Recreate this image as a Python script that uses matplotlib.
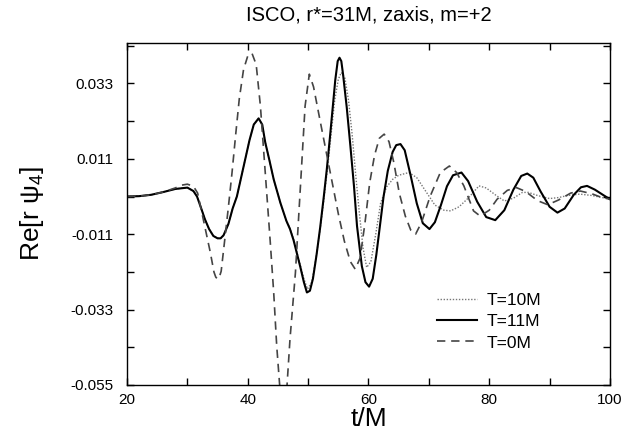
import matplotlib
matplotlib.use("Agg")
import matplotlib.pyplot as plt

# T=10M (dotted)
t_10 = [20, 22, 24, 26, 28, 30, 31, 31.6, 32.3, 32.9, 33.6, 34.3, 35.0, 35.5, 36.0, 36.8,
        37.5, 38.2, 38.9, 39.6, 40.3, 41.0, 41.8, 42.4, 42.9, 43.6, 44.3, 45.4, 46.4, 47.0,
        47.6, 48.1, 48.7, 49.3, 49.9, 50.6, 51.3, 52.0, 52.6, 53.2, 53.8, 54.4, 55.0, 55.5,
        56.1, 56.7, 57.3, 57.9, 58.5, 59.1, 59.7, 60.4, 61.2, 62.0, 63.0, 64.0, 65.0, 66.7,
        68.0, 69.5, 71.0, 72.5, 73.6, 75.0, 76.5, 78.3, 79.5, 81.0, 82.5, 84.0, 85.5, 86.5,
        88.0, 90.0, 91.5, 93.0, 95.0, 97.0, 99.0, 100]
re_10 = [0.0000, 0.0001, 0.0005, 0.0013, 0.0022, 0.0026, 0.0016, 0.0000, -0.0035, -0.0066,
         -0.0095, -0.0115, -0.0122, -0.0122, -0.0113, -0.0080, -0.0035, 0.0000, 0.0055, 0.0110,
         0.0165, 0.0210, 0.0228, 0.0210, 0.0158, 0.0105, 0.0050, -0.0018, -0.0071, -0.0093,
         -0.0125, -0.0160, -0.0200, -0.0240, -0.0270, -0.0250, -0.0180, -0.0095, -0.0010, 0.0080,
         0.0180, 0.0280, 0.0342, 0.0362, 0.0345, 0.0280, 0.0180, 0.0060, -0.0050, -0.0150,
         -0.0207, -0.0190, -0.0110, -0.0020, 0.0028, 0.0050, 0.0062, 0.0070, 0.0055, 0.0015,
         -0.0025, -0.0040, -0.0042, -0.0030, -0.0005, 0.0031, 0.0025, 0.0005, -0.0013, -0.0005,
         0.0012, 0.0012, 0.0003, -0.0006, -0.0003, 0.0003, 0.0007, 0.0003, -0.0004, -0.0008]

# T=11M (solid)
t_11 = [20, 22, 24, 26, 28, 30, 31, 31.6, 32.3, 32.9, 33.6, 34.3, 35.0, 35.5, 36.0, 36.8,
        37.5, 38.2, 38.9, 39.6, 40.3, 41.0, 41.8, 42.4, 42.9, 43.6, 44.3, 45.4, 46.4, 47.0,
        47.6, 48.1, 48.7, 49.3, 49.8, 50.3, 50.8, 51.4, 52.0, 52.6, 53.1, 53.6, 54.1, 54.5,
        54.9, 55.2, 55.5, 55.8, 56.4, 57.0, 57.6, 58.1, 58.9, 59.5, 60.1, 60.7, 61.3, 61.9,
        62.5, 63.2, 64.0, 64.6, 65.3, 66.0, 67.0, 68.0, 69.0, 70.1, 71.0, 72.0, 73.0, 74.0,
        75.4, 76.5, 78.0, 79.5, 81.0, 82.5, 84.0, 85.3, 86.3, 87.3, 88.5, 90.0, 91.3, 92.5,
        94.0, 95.2, 96.2, 97.5, 99.0, 100]
re_11 = [0.0000, 0.0001, 0.0005, 0.0013, 0.0022, 0.0026, 0.0016, 0.0000, -0.0035, -0.0066,
         -0.0095, -0.0115, -0.0122, -0.0122, -0.0113, -0.0080, -0.0035, 0.0000, 0.0055, 0.0110,
         0.0165, 0.0210, 0.0228, 0.0210, 0.0158, 0.0105, 0.0050, -0.0018, -0.0071, -0.0095,
         -0.0128, -0.0163, -0.0205, -0.0250, -0.0280, -0.0275, -0.0240, -0.0170, -0.0090, 0.0000,
         0.0080, 0.0170, 0.0264, 0.0340, 0.0395, 0.0405, 0.0395, 0.0355, 0.0260, 0.0148,
         0.0030, -0.0086, -0.0203, -0.0250, -0.0263, -0.0240, -0.0170, -0.0085, 0.0000, 0.0075,
         0.0130, 0.0150, 0.0153, 0.0135, 0.0060, -0.0020, -0.0078, -0.0095, -0.0075, -0.0025,
         0.0030, 0.0062, 0.0070, 0.0045, -0.0015, -0.0060, -0.0069, -0.0040, 0.0020, 0.0060,
         0.0067, 0.0055, 0.0015, -0.0030, -0.0047, -0.0035, 0.0005, 0.0027, 0.0031, 0.0020,
         0.0003, -0.0008]

# T=0M (dashed)
t_0 = [20, 22, 24, 26, 28, 29, 30, 31, 31.7, 32.4, 33.1, 33.8, 34.4, 34.7, 35.0, 35.3,
       35.6, 36.2, 36.8, 37.4, 38.0, 38.6, 39.3, 40.0, 40.7, 41.4, 42.1, 42.9, 43.7, 44.3,
       44.8, 45.3, 45.9, 46.5, 47.0, 47.9, 48.7, 49.5, 50.2, 50.9, 52.0, 53.0, 54.0, 55.0,
       56.0, 57.0, 57.8, 58.6, 59.4, 60.2, 61.0, 61.8, 62.6, 63.4, 64.2, 65.1, 66.1, 67.0,
       67.8, 68.8, 70.2, 71.9, 73.4, 74.6, 75.8, 77.4, 78.5, 80.0, 81.3, 83.0, 84.5, 86.0,
       88.0, 89.7, 91.5, 93.5, 95.1, 97.0, 98.5, 100]
re_0 = [0.0000, 0.0001, 0.0005, 0.0013, 0.0025, 0.0033, 0.0036, 0.0030, 0.0010, -0.0047,
        -0.0105, -0.0163, -0.0220, -0.0235, -0.0241, -0.0235, -0.0218, -0.0125, -0.0030, 0.0070,
        0.0180, 0.0285, 0.0370, 0.0410, 0.0418, 0.0385, 0.0264, 0.0070, -0.0125, -0.0280,
        -0.0436, -0.0553, -0.0630, -0.0553, -0.0416, -0.0222, 0.0021, 0.0264, 0.0357, 0.0320,
        0.0220, 0.0130, 0.0040, -0.0050, -0.0130, -0.0190, -0.0212, -0.0180, -0.0080, 0.0040,
        0.0120, 0.0170, 0.0182, 0.0160, 0.0099, 0.0010, -0.0057, -0.0098, -0.0110, -0.0075,
        0.0000, 0.0070, 0.0089, 0.0070, 0.0031, -0.0042, -0.0057, -0.0040, -0.0008, 0.0018,
        0.0026, 0.0015, -0.0012, -0.0024, -0.0010, 0.0010, 0.0016, 0.0008, -0.0002, -0.0008]

y_ticks = [-0.055, -0.033, -0.011, 0.011, 0.033]
y_tick_labels = ["-0.055", "-0.033", "-0.011", "0.011", "0.033"]
y_minor = [-0.044, -0.022, 0.0, 0.022, 0.044]
x_ticks = [20, 40, 60, 80, 100]
x_minor = [30, 50, 70, 90]

plt.rcParams['font.family'] = ['Liberation Sans', 'DejaVu Sans']
plt.rcParams['mathtext.fontset'] = 'custom'
plt.rcParams['mathtext.it'] = 'Liberation Sans:italic'
plt.rcParams['mathtext.rm'] = 'Liberation Sans'

fig = plt.figure(figsize=(6.34, 4.32), dpi=100)
ax = fig.add_axes([0.2003, 0.1088, 0.7618, 0.7917])

ax.plot(t_10, re_10, color='#777777', lw=1.0, ls=(0, (1, 1.2)), label='T=10M')
ax.plot(t_11, re_11, color='black', lw=1.5, ls='-', label='T=11M')
ax.plot(t_0, re_0, color='#444444', lw=1.2, ls=(0, (5, 3.5)), label='T=0M')

ax.set_xlim(20, 100)
ax.set_ylim(-0.055, 0.0448)
ax.set_xticks(x_ticks)
ax.set_xticks(x_minor, minor=True)
ax.set_yticks(y_ticks)
ax.set_yticklabels(y_tick_labels)
ax.set_yticks(y_minor, minor=True)
ax.tick_params(which='both', direction='in', top=True, right=True, length=5, width=1,
               labelsize=11)
ax.tick_params(axis='y', pad=10)
ax.tick_params(axis='x', pad=6)
for s in ax.spines.values():
    s.set_linewidth(1.0)

ax.set_xlabel("t/M", fontsize=19, labelpad=0)
ax.set_ylabel("Re[r ψ$_4$]", fontsize=19, labelpad=17)
ax.set_title("ISCO, r*=31M, zaxis, m=+2", fontsize=14.5, pad=16)

ax.legend(loc='center left', bbox_to_anchor=(0.642, 0.185), frameon=False, fontsize=12.5,
          handlelength=2.3, handletextpad=0.55, labelspacing=0.35, borderpad=0,
          borderaxespad=0)

fig.savefig("out.png", dpi=100)
